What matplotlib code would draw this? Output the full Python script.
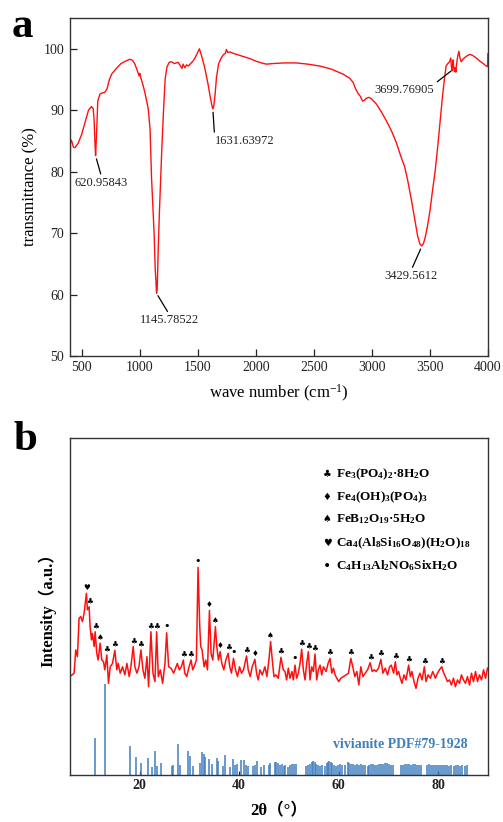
import matplotlib
matplotlib.use("Agg")
import matplotlib.pyplot as plt

plt.rcParams["font.family"] = ["Liberation Serif", "DejaVu Sans"]
plt.rcParams["mathtext.fontset"] = "custom"
plt.rcParams["mathtext.rm"] = "Liberation Serif"
plt.rcParams["mathtext.default"] = "regular"

# FTIR spectrum (panel a) ######################################################
wn = [400, 402, 406, 415, 430, 443, 470, 500, 530, 560, 585, 600, 608, 615,
      621, 628, 640, 658, 675, 700, 720, 740, 760, 800, 840, 880, 916, 940,
      960, 985, 995, 1002, 1010, 1031, 1050, 1074, 1090, 1103, 1115, 1125,
      1135, 1140, 1146, 1152, 1160, 1170, 1180, 1192, 1205, 1220, 1235, 1255,
      1275, 1300, 1330, 1350, 1365, 1375, 1390, 1405, 1420, 1440, 1460, 1480,
      1500, 1515, 1522, 1535, 1560, 1590, 1610, 1625, 1632, 1640, 1650, 1662,
      1680, 1700, 1720, 1740, 1748, 1760, 1780, 1800, 1850, 1900, 1950, 2000,
      2050, 2092, 2150, 2250, 2350, 2450, 2550, 2650, 2750, 2810, 2840, 2860,
      2880, 2900, 2920, 2935, 2950, 2970, 2985, 3000, 3040, 3080, 3125, 3170,
      3210, 3250, 3283, 3310, 3340, 3370, 3395, 3415, 3430, 3445, 3460, 3480,
      3500, 3520, 3545, 3570, 3590, 3610, 3625, 3640, 3655, 3670, 3680, 3686,
      3692, 3700, 3706, 3712, 3718, 3724, 3730, 3740, 3750, 3758, 3770, 3790,
      3815, 3845, 3870, 3900, 3930, 3960, 3985, 3997, 4000]
trans = [96.0, 82.0, 85.2, 85.0, 84.0, 83.9, 84.6, 86.0, 88.0, 90.0, 90.6,
         90.3, 88.5, 85.0, 82.6, 85.5, 91.5, 92.6, 92.8, 92.9, 93.5, 95.0,
         95.9, 96.8, 97.6, 98.0, 98.3, 98.1, 97.5, 96.2, 95.6, 96.0, 95.3,
         94.0, 92.5, 90.3, 87.0, 79.0, 74.0, 70.0, 64.0, 62.5, 60.2, 61.0,
         67.0, 73.0, 78.0, 84.0, 89.5, 95.0, 97.0, 97.8, 97.9, 97.6, 97.8,
         97.3, 96.8, 97.5, 96.9, 97.4, 97.2, 97.6, 98.0, 98.6, 99.4, 100.0,
         99.6, 98.8, 97.0, 94.2, 92.0, 90.6, 90.2, 90.8, 92.5, 95.3, 97.5,
         98.4, 99.0, 99.3, 99.9, 99.4, 99.5, 99.3, 99.0, 98.7, 98.4, 98.0,
         97.7, 97.5, 97.6, 97.7, 97.7, 97.5, 97.2, 96.7, 95.9, 95.2, 94.5,
         93.5, 92.8, 92.3, 91.5, 91.6, 91.9, 92.1, 92.0, 91.8, 91.0, 89.8,
         88.3, 86.6, 84.8, 82.5, 80.8, 78.5, 75.5, 72.2, 69.5, 68.2, 67.9,
         68.3, 69.3, 71.2, 73.5, 76.5, 80.0, 84.5, 88.5, 92.5, 95.0, 97.2,
         97.6, 97.9, 98.5, 97.0, 96.4, 98.2, 97.0, 96.3, 96.9, 96.2, 97.5,
         98.8, 99.6, 98.6, 97.9, 98.4, 98.8, 99.1, 98.9, 98.5, 98.0, 97.6,
         97.2, 97.1, 99.2]

peak_labels = ["620.95843", "1145.78522", "1631.63972", "3429.5612", "3699.76905"]
peak_xy = [(625, 82.3), (1152, 60.0), (1632, 89.9), (3425, 67.6), (3690, 96.5)]
label_xy = [(672, 78.2), (1255, 55.8), (1902, 85.0), (3340, 63.0), (3283, 93.3)]
label_rel = [(0.5, 1), (0.5, 1), (0, 1), (0.5, 1), (1, 1)]

# XRD pattern (panel b) ########################################################
theta = [6.03, 6.84, 7.17, 7.51, 7.84, 8.18, 8.52, 8.85, 9.32, 9.52, 9.86,
         10.06, 10.33, 10.53, 10.87, 11.07, 11.40, 11.67, 12.08, 12.41, 12.75,
         13.01, 13.42, 13.75, 14.09, 14.56, 15.03, 15.43, 15.70, 16.11, 16.57,
         17.04, 17.45, 17.92, 18.25, 18.72, 19.06, 19.46, 19.87, 20.27, 20.67,
         21.07, 21.48, 21.81, 22.28, 22.69, 23.09, 23.43, 23.76, 24.16, 24.63,
         25.10, 25.44, 25.84, 26.31, 26.85, 27.59, 27.99, 28.39, 28.80, 29.07,
         29.47, 29.87, 30.34, 30.68, 31.08, 31.42, 31.75, 32.09, 32.29, 32.56,
         32.96, 33.30, 33.64, 34.04, 34.37, 34.71, 35.24, 35.51, 35.85, 36.19,
         36.52, 36.93, 37.33, 37.80, 38.13, 38.47, 38.87, 39.28, 39.68, 40.08,
         40.48, 40.89, 41.49, 41.83, 42.23, 42.63, 43.17, 43.51, 43.84, 44.18,
         44.65, 45.19, 45.59, 45.99, 46.33, 46.67, 47.00, 47.40, 47.87, 48.41,
         48.88, 49.22, 49.55, 49.89, 50.22, 50.63, 50.90, 51.23, 51.57, 51.90,
         52.24, 52.58, 52.91, 53.25, 53.58, 53.92, 54.25, 54.59, 54.93, 55.26,
         55.60, 55.93, 56.27, 56.61, 56.94, 57.48, 57.88, 58.28, 58.62, 58.96,
         59.29, 59.63, 60.03, 60.43, 60.97, 61.51, 61.98, 62.45, 62.85, 63.25,
         63.66, 64.06, 64.46, 64.87, 65.34, 65.81, 66.34, 66.75, 67.15, 67.55,
         68.02, 68.49, 68.90, 69.37, 69.84, 70.24, 70.58, 71.05, 71.39, 71.72,
         72.06, 72.39, 72.73, 73.13, 73.53, 74.07, 74.41, 74.74, 75.15, 75.55,
         75.95, 76.35, 76.76, 77.23, 77.56, 77.97, 78.44, 78.91, 79.44, 79.85,
         80.25, 80.72, 81.12, 81.46, 81.86, 82.27, 82.67, 83.07, 83.47, 83.88,
         84.28, 84.68, 85.09, 85.49, 85.89, 86.30, 86.70, 87.10, 87.51, 87.91,
         88.31, 88.71, 89.12, 89.52, 89.92]
intensity = [29.2, 30.2, 37.1, 35.1, 46.5, 47.0, 45.5, 48.0, 53.9, 49.0, 49.9,
             44.0, 40.1, 42.0, 38.1, 42.5, 36.1, 34.1, 39.1, 34.1, 33.6, 31.2,
             35.6, 27.2, 32.1, 33.1, 37.0, 31.2, 33.1, 30.2, 32.1, 29.7, 33.1,
             29.2, 32.1, 38.1, 32.1, 30.2, 32.1, 37.1, 31.2, 28.7, 35.1, 26.2,
             42.5, 30.2, 27.7, 42.5, 29.2, 31.2, 27.2, 33.1, 42.2, 32.1, 31.7,
             30.2, 33.1, 31.2, 32.1, 34.1, 30.2, 29.2, 31.7, 34.1, 31.2, 32.6,
             34.1, 61.6, 44.0, 38.1, 37.1, 32.1, 34.1, 31.2, 48.8, 36.1, 34.1,
             44.0, 38.1, 34.1, 36.6, 33.1, 31.2, 34.1, 36.1, 32.1, 30.2, 34.6,
             31.2, 29.2, 32.1, 30.2, 31.2, 35.3, 31.2, 29.2, 32.1, 34.3, 30.2,
             28.2, 31.2, 29.7, 32.1, 29.2, 34.1, 39.6, 34.1, 29.2, 29.7, 28.7,
             34.9, 31.2, 30.7, 28.2, 31.7, 28.7, 30.7, 28.2, 32.6, 28.7, 30.2,
             33.1, 37.3, 31.2, 28.2, 33.1, 36.6, 28.2, 32.1, 30.7, 35.9, 28.2,
             31.2, 32.6, 29.7, 32.1, 30.7, 33.1, 34.6, 30.2, 31.7, 29.7, 28.7,
             27.7, 28.7, 29.2, 29.7, 30.2, 34.6, 32.1, 29.2, 30.7, 26.7, 32.1,
             29.2, 30.2, 31.2, 33.3, 30.7, 31.2, 30.7, 31.7, 34.3, 30.2, 31.7,
             29.7, 32.1, 32.6, 30.2, 33.6, 29.7, 30.7, 28.7, 27.2, 29.7, 28.2,
             32.6, 29.2, 30.7, 27.7, 25.7, 28.7, 30.2, 28.2, 32.1, 27.7, 29.7,
             28.7, 30.7, 28.7, 30.2, 31.2, 32.1, 30.2, 29.2, 27.7, 28.2, 26.7,
             28.7, 26.2, 28.2, 27.2, 29.7, 28.2, 27.2, 29.2, 26.7, 30.2, 27.7,
             30.7, 27.7, 29.7, 28.2, 31.2, 28.7, 31.7]

# phase marks on peaks
mark_theta = [9.32, 9.86, 11.07, 12.08, 13.42, 15.03, 18.72, 20.27, 22.28,
              23.43, 25.44, 28.80, 30.34, 31.75, 34.04, 35.24, 36.19, 37.80,
              38.87, 41.49, 43.17, 46.33, 48.41, 51.23, 52.58, 53.92, 55.26,
              58.28, 62.45, 66.34, 68.49, 71.39, 74.07, 77.23, 80.72]
mark_int = [53.9, 49.9, 42.5, 39.1, 35.6, 37.0, 38.1, 37.1, 42.5, 42.5, 42.2,
            34.1, 34.1, 61.6, 48.8, 44.0, 36.6, 36.1, 34.6, 35.3, 34.3, 39.6,
            34.9, 32.6, 37.3, 36.6, 35.9, 34.6, 34.6, 33.3, 34.3, 33.6, 32.6,
            32.1, 32.1]
mark_sym = ["\u2665", "\u2663", "\u2663", "\u2660", "\u2663", "\u2663",
            "\u2663", "\u2663", "\u2663", "\u2663", "\u2022", "\u2663",
            "\u2663", "\u2022", "\u2666", "\u2660", "\u2666", "\u2663",
            "\u2022", "\u2663", "\u2666", "\u2660", "\u2663", "\u2022",
            "\u2663", "\u2663", "\u2663", "\u2663", "\u2663", "\u2663",
            "\u2663", "\u2663", "\u2663", "\u2663", "\u2663"]

legend_sym = ["\u2663", "\u2666", "\u2660", "\u2665", "\u2022"]
legend_txt = [r"Fe$_3$(PO$_4$)$_2$·8H$_2$O",
              r"Fe$_4$(OH)$_3$(PO$_4$)$_3$",
              r"FeB$_{12}$O$_{19}$·5H$_2$O",
              r"Ca$_4$(Al$_8$Si$_{16}$O$_{48}$)(H$_2$O)$_{18}$",
              r"C$_4$H$_{13}$Al$_2$NO$_6$SixH$_2$O"]

# vivianite PDF#79-1928 reference sticks
stick_theta = [11.13, 13.15, 18.12, 19.33, 20.34, 21.75, 22.42, 23.03, 23.43,
               24.31, 26.45, 26.72, 27.80, 28.20, 29.81, 30.08, 30.82, 32.23,
               32.64, 32.91, 33.11, 33.98, 34.52, 35.46, 35.73, 36.67, 37.14,
               38.22, 38.75, 39.09, 39.56, 40.30, 41.04, 41.45, 41.78, 42.86,
               43.19, 43.59, 44.33, 45.00, 45.94, 46.28, 47.15, 47.49, 47.83,
               48.23, 48.6, 49.0, 49.3, 49.9, 50.3, 50.7, 51.1, 51.5, 53.5,
               53.9, 54.3, 54.6, 54.9, 55.2, 55.5, 55.9, 56.3, 56.7, 57.3,
               57.7, 57.9, 58.1, 58.4, 58.7, 59.0, 59.4, 59.8, 60.2, 60.6,
               61.2, 61.8, 62.1, 62.5, 62.8, 63.2, 63.6, 64.0, 64.4, 64.8,
               65.2, 65.9, 66.2, 66.6, 67.0, 67.4, 67.8, 68.2, 68.6, 69.0,
               69.4, 69.8, 70.2, 70.6, 71.0, 72.6, 73.0, 73.4, 73.8, 74.2,
               74.6, 75.0, 75.4, 75.8, 76.2, 76.6, 77.8, 78.2, 78.6, 79.0,
               79.4, 79.8, 80.2, 80.6, 81.0, 81.4, 81.8, 82.2, 82.6, 83.1,
               83.5, 83.9, 84.3, 84.8, 85.3, 85.7]
stick_int = [10.9, 27.0, 8.6, 5.2, 3.5, 4.9, 2.5, 7.1, 2.7, 3.5, 2.7, 3.0,
             9.1, 3.0, 7.2, 5.7, 2.7, 3.5, 6.8, 6.2, 5.4, 4.6, 3.3, 5.1, 4.2,
             2.7, 5.8, 2.5, 4.7, 3.0, 3.3, 4.4, 4.4, 3.0, 2.7, 2.8, 3.0, 4.2,
             2.3, 3.0, 2.9, 3.5, 4.0, 3.8, 3.5, 3.0, 3.2, 2.6, 3.0, 2.5, 3.0,
             3.2, 3.4, 3.3, 2.6, 3.0, 3.4, 4.0, 4.2, 3.9, 3.4, 3.1, 2.8, 3.0,
             2.7, 3.6, 4.0, 4.1, 3.8, 3.6, 3.0, 2.8, 3.1, 3.3, 3.0, 3.0, 3.9,
             3.5, 3.3, 3.2, 3.1, 3.3, 3.0, 3.2, 3.1, 2.9, 2.8, 3.0, 3.2, 3.3,
             3.0, 3.1, 3.2, 3.3, 3.4, 3.6, 3.5, 3.2, 3.0, 2.9, 3.0, 3.1, 3.2,
             3.3, 3.3, 3.1, 3.3, 3.2, 3.0, 3.1, 3.0, 3.0, 3.2, 3.1, 3.0, 3.1,
             3.0, 3.1, 3.0, 2.9, 3.0, 3.0, 2.8, 2.9, 2.8, 3.0, 2.9, 2.8, 2.9,
             2.8, 2.9]

################################################################################

fig = plt.figure(figsize=(5.03, 8.22), dpi=100)
spine_col = "#333333"

# panel a
ax = fig.add_axes([0.139, 0.567, 0.831, 0.411])
ax.plot(wn, trans, color="#ff1010", lw=1.0)
ax.set_xlim(400, 4000)
ax.set_ylim(50, 105)
ax.set_xticks([500, 1000, 1500, 2000, 2500, 3000, 3500, 4000])
ax.set_yticks([50, 60, 70, 80, 90, 100])
ax.tick_params(direction="in", length=5, width=0.9, labelsize=10,
               colors="#222222", pad=4)
for s in ax.spines.values():
  s.set_color(spine_col)
  s.set_linewidth(1.0)
for lab, xy, txy, rp in zip(peak_labels, peak_xy, label_xy, label_rel):
  ax.annotate(lab, xy=xy, xytext=txy, ha="center", va="center", fontsize=9,
              color="#222222",
              arrowprops=dict(arrowstyle="-", color="k", lw=0.9, relpos=rp,
                              shrinkA=0, shrinkB=1))
ax.set_xlabel("wave number (cm$^{-1}$)", fontsize=12, labelpad=6)
ax.set_ylabel("transmittance (%)", fontsize=12, labelpad=4)
fig.text(0.044, 0.967, "a", fontsize=31, fontweight="bold",
         ha="center", va="center")

# panel b
bx = fig.add_axes([0.139, 0.0572, 0.831, 0.410])
bx.vlines(stick_theta, 0, stick_int, color="#3f7fbf", lw=1.1)
bx.plot(theta, intensity, color="#ff1010", lw=1.1)
for t, v, sym in zip(mark_theta, mark_int, mark_sym):
  fs = 8 if sym == "\u2022" else 5.5
  bx.text(t, v + 0.5, sym, fontsize=fs, family="DejaVu Sans",
          ha="center", va="bottom", color="k")
leg_y = [89.3, 82.5, 76.0, 68.8, 62.0]
for sym, txt, yy in zip(legend_sym, legend_txt, leg_y):
  fs = 10 if sym == "\u2022" else 7
  bx.text(57.7, yy, sym, fontsize=fs, family="DejaVu Sans",
          ha="center", va="center")
  bx.text(59.5, yy, txt, fontsize=9.5, fontweight="bold",
          ha="left", va="center")
bx.text(85.9, 8.9, "vivianite PDF#79-1928", fontsize=10, fontweight="bold",
        color="#3f7fbf", ha="right", va="center")
bx.set_xlim(6, 90)
bx.set_ylim(0, 100)
bx.set_xticks([20, 40, 60, 80])
bx.set_yticks([])
bx.tick_params(direction="in", length=3, width=0.9, labelsize=10, pad=3,
               colors="#222222")
for lbl in bx.get_xticklabels():
  lbl.set_fontweight("bold")
for s in bx.spines.values():
  s.set_color(spine_col)
  s.set_linewidth(1.0)
bx.set_xlabel("2θ（°）", fontsize=12, fontweight="bold",
              family=["Liberation Serif", "Noto Sans CJK SC"], labelpad=8)
bx.set_ylabel("Intensity（a.u.）", fontsize=12, fontweight="bold",
              family=["Liberation Serif", "Noto Sans CJK SC"], labelpad=10)
fig.text(0.05, 0.465, "b", fontsize=31, fontweight="bold",
         ha="center", va="center")

fig.savefig("out.png", dpi=100)
